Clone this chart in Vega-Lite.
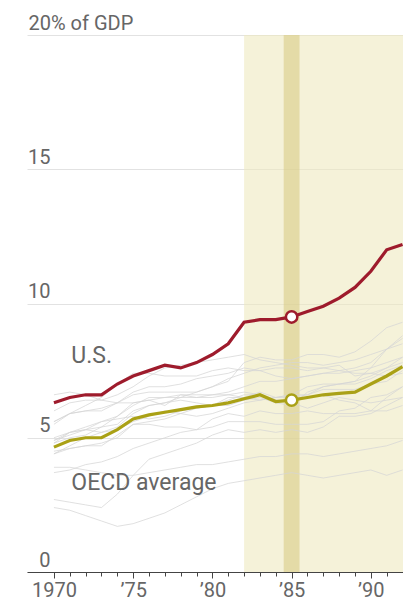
{
  "$schema": "https://vega.github.io/schema/vega-lite/v6.json",
  "width": 376,
  "height": 537,
  "autosize": "none",
  "padding": {"left": 27, "right": 0, "top": 35, "bottom": 29},
  "config": {"view": {"stroke": null}, "font": "Roboto"},
  "datasets": {
    "shade": [{"s": 1982, "e": 1992.03, "k": "period"}],
    "band": [{"s": 1984.5, "e": 1985.5, "k": "1985"}],
    "labels": [
      {"t": "U.S.", "x": 1971.1, "v": 7.8},
      {"t": "OECD average", "x": 1971.1, "v": 3.05}
    ],
    "gray": [
      {"c":"CAN","y":1970,"v":6.6},{"c":"CAN","y":1971,"v":6.7},{"c":"CAN","y":1972,"v":6.6},{"c":"CAN","y":1973,"v":6.4},{"c":"CAN","y":1974,"v":6.3},{"c":"CAN","y":1975,"v":6.6},{"c":"CAN","y":1976,"v":6.7},{"c":"CAN","y":1977,"v":6.7},{"c":"CAN","y":1978,"v":6.7},{"c":"CAN","y":1979,"v":6.7},{"c":"CAN","y":1980,"v":6.9},{"c":"CAN","y":1981,"v":7.1},{"c":"CAN","y":1982,"v":7.8},{"c":"CAN","y":1983,"v":8.0},{"c":"CAN","y":1984,"v":7.9},{"c":"CAN","y":1985,"v":7.9},{"c":"CAN","y":1986,"v":8.1},{"c":"CAN","y":1987,"v":8.1},{"c":"CAN","y":1988,"v":8.0},{"c":"CAN","y":1989,"v":8.2},{"c":"CAN","y":1990,"v":8.6},{"c":"CAN","y":1991,"v":9.1},{"c":"CAN","y":1992,"v":9.3},
      {"c":"SWE","y":1970,"v":6.0},{"c":"SWE","y":1971,"v":6.3},{"c":"SWE","y":1972,"v":6.4},{"c":"SWE","y":1973,"v":6.4},{"c":"SWE","y":1974,"v":6.6},{"c":"SWE","y":1975,"v":6.9},{"c":"SWE","y":1976,"v":7.3},{"c":"SWE","y":1977,"v":7.6},{"c":"SWE","y":1978,"v":7.7},{"c":"SWE","y":1979,"v":7.8},{"c":"SWE","y":1980,"v":7.9},{"c":"SWE","y":1981,"v":8.0},{"c":"SWE","y":1982,"v":8.1},{"c":"SWE","y":1983,"v":7.9},{"c":"SWE","y":1984,"v":7.8},{"c":"SWE","y":1985,"v":7.7},{"c":"SWE","y":1986,"v":7.6},{"c":"SWE","y":1987,"v":7.6},{"c":"SWE","y":1988,"v":7.5},{"c":"SWE","y":1989,"v":7.4},{"c":"SWE","y":1990,"v":7.4},{"c":"SWE","y":1991,"v":7.3},{"c":"SWE","y":1992,"v":7.4},
      {"c":"NLD","y":1970,"v":5.6},{"c":"NLD","y":1971,"v":5.9},{"c":"NLD","y":1972,"v":6.0},{"c":"NLD","y":1973,"v":6.0},{"c":"NLD","y":1974,"v":6.3},{"c":"NLD","y":1975,"v":6.7},{"c":"NLD","y":1976,"v":6.9},{"c":"NLD","y":1977,"v":6.9},{"c":"NLD","y":1978,"v":7.0},{"c":"NLD","y":1979,"v":7.2},{"c":"NLD","y":1980,"v":7.3},{"c":"NLD","y":1981,"v":7.4},{"c":"NLD","y":1982,"v":7.6},{"c":"NLD","y":1983,"v":7.5},{"c":"NLD","y":1984,"v":7.3},{"c":"NLD","y":1985,"v":7.2},{"c":"NLD","y":1986,"v":7.3},{"c":"NLD","y":1987,"v":7.4},{"c":"NLD","y":1988,"v":7.4},{"c":"NLD","y":1989,"v":7.5},{"c":"NLD","y":1990,"v":7.6},{"c":"NLD","y":1991,"v":7.8},{"c":"NLD","y":1992,"v":8.0},
      {"c":"DEU","y":1970,"v":5.5},{"c":"DEU","y":1971,"v":5.9},{"c":"DEU","y":1972,"v":6.2},{"c":"DEU","y":1973,"v":6.5},{"c":"DEU","y":1974,"v":7.0},{"c":"DEU","y":1975,"v":7.4},{"c":"DEU","y":1976,"v":7.4},{"c":"DEU","y":1977,"v":7.3},{"c":"DEU","y":1978,"v":7.3},{"c":"DEU","y":1979,"v":7.3},{"c":"DEU","y":1980,"v":7.5},{"c":"DEU","y":1981,"v":7.6},{"c":"DEU","y":1982,"v":7.5},{"c":"DEU","y":1983,"v":7.5},{"c":"DEU","y":1984,"v":7.6},{"c":"DEU","y":1985,"v":7.6},{"c":"DEU","y":1986,"v":7.5},{"c":"DEU","y":1987,"v":7.6},{"c":"DEU","y":1988,"v":7.7},{"c":"DEU","y":1989,"v":7.3},{"c":"DEU","y":1990,"v":7.4},{"c":"DEU","y":1991,"v":7.6},{"c":"DEU","y":1992,"v":8.0},
      {"c":"FRA","y":1970,"v":5.0},{"c":"FRA","y":1971,"v":5.2},{"c":"FRA","y":1972,"v":5.3},{"c":"FRA","y":1973,"v":5.4},{"c":"FRA","y":1974,"v":5.5},{"c":"FRA","y":1975,"v":6.0},{"c":"FRA","y":1976,"v":6.2},{"c":"FRA","y":1977,"v":6.3},{"c":"FRA","y":1978,"v":6.5},{"c":"FRA","y":1979,"v":6.7},{"c":"FRA","y":1980,"v":6.9},{"c":"FRA","y":1981,"v":7.2},{"c":"FRA","y":1982,"v":7.4},{"c":"FRA","y":1983,"v":7.6},{"c":"FRA","y":1984,"v":7.7},{"c":"FRA","y":1985,"v":7.8},{"c":"FRA","y":1986,"v":7.8},{"c":"FRA","y":1987,"v":7.7},{"c":"FRA","y":1988,"v":7.8},{"c":"FRA","y":1989,"v":7.9},{"c":"FRA","y":1990,"v":8.1},{"c":"FRA","y":1991,"v":8.3},{"c":"FRA","y":1992,"v":8.5},
      {"c":"CHE","y":1970,"v":4.9},{"c":"CHE","y":1971,"v":5.1},{"c":"CHE","y":1972,"v":5.3},{"c":"CHE","y":1973,"v":5.6},{"c":"CHE","y":1974,"v":5.8},{"c":"CHE","y":1975,"v":6.2},{"c":"CHE","y":1976,"v":6.5},{"c":"CHE","y":1977,"v":6.5},{"c":"CHE","y":1978,"v":6.6},{"c":"CHE","y":1979,"v":6.6},{"c":"CHE","y":1980,"v":6.6},{"c":"CHE","y":1981,"v":6.7},{"c":"CHE","y":1982,"v":6.9},{"c":"CHE","y":1983,"v":7.1},{"c":"CHE","y":1984,"v":7.1},{"c":"CHE","y":1985,"v":7.2},{"c":"CHE","y":1986,"v":7.3},{"c":"CHE","y":1987,"v":7.4},{"c":"CHE","y":1988,"v":7.5},{"c":"CHE","y":1989,"v":7.6},{"c":"CHE","y":1990,"v":7.8},{"c":"CHE","y":1991,"v":8.3},{"c":"CHE","y":1992,"v":8.7},
      {"c":"DNK","y":1970,"v":5.6},{"c":"DNK","y":1971,"v":5.9},{"c":"DNK","y":1972,"v":6.0},{"c":"DNK","y":1973,"v":6.1},{"c":"DNK","y":1974,"v":6.3},{"c":"DNK","y":1975,"v":6.3},{"c":"DNK","y":1976,"v":6.4},{"c":"DNK","y":1977,"v":6.5},{"c":"DNK","y":1978,"v":6.5},{"c":"DNK","y":1979,"v":6.5},{"c":"DNK","y":1980,"v":6.6},{"c":"DNK","y":1981,"v":6.6},{"c":"DNK","y":1982,"v":6.7},{"c":"DNK","y":1983,"v":6.6},{"c":"DNK","y":1984,"v":6.4},{"c":"DNK","y":1985,"v":6.3},{"c":"DNK","y":1986,"v":6.1},{"c":"DNK","y":1987,"v":6.3},{"c":"DNK","y":1988,"v":6.5},{"c":"DNK","y":1989,"v":6.4},{"c":"DNK","y":1990,"v":6.3},{"c":"DNK","y":1991,"v":6.4},{"c":"DNK","y":1992,"v":6.5},
      {"c":"AUT","y":1970,"v":4.8},{"c":"AUT","y":1971,"v":5.0},{"c":"AUT","y":1972,"v":5.1},{"c":"AUT","y":1973,"v":5.4},{"c":"AUT","y":1974,"v":5.8},{"c":"AUT","y":1975,"v":6.3},{"c":"AUT","y":1976,"v":6.4},{"c":"AUT","y":1977,"v":6.2},{"c":"AUT","y":1978,"v":6.6},{"c":"AUT","y":1979,"v":6.5},{"c":"AUT","y":1980,"v":6.5},{"c":"AUT","y":1981,"v":6.6},{"c":"AUT","y":1982,"v":6.5},{"c":"AUT","y":1983,"v":6.4},{"c":"AUT","y":1984,"v":6.5},{"c":"AUT","y":1985,"v":6.5},{"c":"AUT","y":1986,"v":6.6},{"c":"AUT","y":1987,"v":6.8},{"c":"AUT","y":1988,"v":6.8},{"c":"AUT","y":1989,"v":6.8},{"c":"AUT","y":1990,"v":7.0},{"c":"AUT","y":1991,"v":7.1},{"c":"AUT","y":1992,"v":7.5},
      {"c":"NOR","y":1970,"v":4.4},{"c":"NOR","y":1971,"v":4.7},{"c":"NOR","y":1972,"v":5.0},{"c":"NOR","y":1973,"v":5.2},{"c":"NOR","y":1974,"v":5.4},{"c":"NOR","y":1975,"v":5.9},{"c":"NOR","y":1976,"v":6.2},{"c":"NOR","y":1977,"v":6.3},{"c":"NOR","y":1978,"v":6.4},{"c":"NOR","y":1979,"v":6.3},{"c":"NOR","y":1980,"v":6.2},{"c":"NOR","y":1981,"v":6.2},{"c":"NOR","y":1982,"v":6.4},{"c":"NOR","y":1983,"v":6.5},{"c":"NOR","y":1984,"v":6.3},{"c":"NOR","y":1985,"v":6.2},{"c":"NOR","y":1986,"v":6.7},{"c":"NOR","y":1987,"v":6.9},{"c":"NOR","y":1988,"v":7.0},{"c":"NOR","y":1989,"v":7.0},{"c":"NOR","y":1990,"v":7.2},{"c":"NOR","y":1991,"v":7.5},{"c":"NOR","y":1992,"v":7.7},
      {"c":"FIN","y":1970,"v":4.9},{"c":"FIN","y":1971,"v":5.2},{"c":"FIN","y":1972,"v":5.3},{"c":"FIN","y":1973,"v":5.2},{"c":"FIN","y":1974,"v":5.3},{"c":"FIN","y":1975,"v":5.6},{"c":"FIN","y":1976,"v":5.8},{"c":"FIN","y":1977,"v":6.0},{"c":"FIN","y":1978,"v":5.9},{"c":"FIN","y":1979,"v":5.8},{"c":"FIN","y":1980,"v":5.9},{"c":"FIN","y":1981,"v":6.1},{"c":"FIN","y":1982,"v":6.3},{"c":"FIN","y":1983,"v":6.4},{"c":"FIN","y":1984,"v":6.5},{"c":"FIN","y":1985,"v":6.6},{"c":"FIN","y":1986,"v":6.9},{"c":"FIN","y":1987,"v":7.0},{"c":"FIN","y":1988,"v":7.0},{"c":"FIN","y":1989,"v":7.1},{"c":"FIN","y":1990,"v":7.6},{"c":"FIN","y":1991,"v":8.3},{"c":"FIN","y":1992,"v":8.8},
      {"c":"ITA","y":1970,"v":4.8},{"c":"ITA","y":1971,"v":5.2},{"c":"ITA","y":1972,"v":5.4},{"c":"ITA","y":1973,"v":5.6},{"c":"ITA","y":1974,"v":5.7},{"c":"ITA","y":1975,"v":5.8},{"c":"ITA","y":1976,"v":5.7},{"c":"ITA","y":1977,"v":5.8},{"c":"ITA","y":1978,"v":6.0},{"c":"ITA","y":1979,"v":6.1},{"c":"ITA","y":1980,"v":6.2},{"c":"ITA","y":1981,"v":6.5},{"c":"ITA","y":1982,"v":6.5},{"c":"ITA","y":1983,"v":6.7},{"c":"ITA","y":1984,"v":6.5},{"c":"ITA","y":1985,"v":6.6},{"c":"ITA","y":1986,"v":6.6},{"c":"ITA","y":1987,"v":6.9},{"c":"ITA","y":1988,"v":7.0},{"c":"ITA","y":1989,"v":7.1},{"c":"ITA","y":1990,"v":7.3},{"c":"ITA","y":1991,"v":7.6},{"c":"ITA","y":1992,"v":7.8},
      {"c":"JPN","y":1970,"v":4.4},{"c":"JPN","y":1971,"v":4.6},{"c":"JPN","y":1972,"v":4.7},{"c":"JPN","y":1973,"v":4.8},{"c":"JPN","y":1974,"v":5.0},{"c":"JPN","y":1975,"v":5.5},{"c":"JPN","y":1976,"v":5.6},{"c":"JPN","y":1977,"v":5.7},{"c":"JPN","y":1978,"v":5.9},{"c":"JPN","y":1979,"v":6.1},{"c":"JPN","y":1980,"v":6.2},{"c":"JPN","y":1981,"v":6.4},{"c":"JPN","y":1982,"v":6.6},{"c":"JPN","y":1983,"v":6.6},{"c":"JPN","y":1984,"v":6.4},{"c":"JPN","y":1985,"v":6.4},{"c":"JPN","y":1986,"v":6.5},{"c":"JPN","y":1987,"v":6.6},{"c":"JPN","y":1988,"v":6.4},{"c":"JPN","y":1989,"v":6.3},{"c":"JPN","y":1990,"v":6.0},{"c":"JPN","y":1991,"v":6.0},{"c":"JPN","y":1992,"v":6.2},
      {"c":"GBR","y":1970,"v":4.5},{"c":"GBR","y":1971,"v":4.6},{"c":"GBR","y":1972,"v":4.7},{"c":"GBR","y":1973,"v":4.7},{"c":"GBR","y":1974,"v":5.1},{"c":"GBR","y":1975,"v":5.5},{"c":"GBR","y":1976,"v":5.5},{"c":"GBR","y":1977,"v":5.4},{"c":"GBR","y":1978,"v":5.4},{"c":"GBR","y":1979,"v":5.3},{"c":"GBR","y":1980,"v":5.7},{"c":"GBR","y":1981,"v":5.9},{"c":"GBR","y":1982,"v":5.8},{"c":"GBR","y":1983,"v":6.0},{"c":"GBR","y":1984,"v":5.9},{"c":"GBR","y":1985,"v":5.9},{"c":"GBR","y":1986,"v":6.0},{"c":"GBR","y":1987,"v":5.9},{"c":"GBR","y":1988,"v":5.9},{"c":"GBR","y":1989,"v":5.9},{"c":"GBR","y":1990,"v":6.0},{"c":"GBR","y":1991,"v":6.5},{"c":"GBR","y":1992,"v":6.9},
      {"c":"ESP","y":1970,"v":3.7},{"c":"ESP","y":1971,"v":3.8},{"c":"ESP","y":1972,"v":4.0},{"c":"ESP","y":1973,"v":4.1},{"c":"ESP","y":1974,"v":4.3},{"c":"ESP","y":1975,"v":4.6},{"c":"ESP","y":1976,"v":4.8},{"c":"ESP","y":1977,"v":5.0},{"c":"ESP","y":1978,"v":5.2},{"c":"ESP","y":1979,"v":5.3},{"c":"ESP","y":1980,"v":5.4},{"c":"ESP","y":1981,"v":5.6},{"c":"ESP","y":1982,"v":5.6},{"c":"ESP","y":1983,"v":5.6},{"c":"ESP","y":1984,"v":5.5},{"c":"ESP","y":1985,"v":5.5},{"c":"ESP","y":1986,"v":5.5},{"c":"ESP","y":1987,"v":5.6},{"c":"ESP","y":1988,"v":6.0},{"c":"ESP","y":1989,"v":6.1},{"c":"ESP","y":1990,"v":6.5},{"c":"ESP","y":1991,"v":6.6},{"c":"ESP","y":1992,"v":6.9},
      {"c":"GRC","y":1970,"v":3.9},{"c":"GRC","y":1971,"v":3.9},{"c":"GRC","y":1972,"v":3.8},{"c":"GRC","y":1973,"v":3.7},{"c":"GRC","y":1974,"v":3.6},{"c":"GRC","y":1975,"v":3.6},{"c":"GRC","y":1976,"v":3.7},{"c":"GRC","y":1977,"v":3.8},{"c":"GRC","y":1978,"v":3.9},{"c":"GRC","y":1979,"v":4.0},{"c":"GRC","y":1980,"v":4.0},{"c":"GRC","y":1981,"v":4.1},{"c":"GRC","y":1982,"v":4.2},{"c":"GRC","y":1983,"v":4.3},{"c":"GRC","y":1984,"v":4.3},{"c":"GRC","y":1985,"v":4.4},{"c":"GRC","y":1986,"v":4.4},{"c":"GRC","y":1987,"v":4.3},{"c":"GRC","y":1988,"v":4.4},{"c":"GRC","y":1989,"v":4.5},{"c":"GRC","y":1990,"v":4.6},{"c":"GRC","y":1991,"v":4.7},{"c":"GRC","y":1992,"v":4.9},
      {"c":"PRT","y":1970,"v":2.7},{"c":"PRT","y":1971,"v":2.6},{"c":"PRT","y":1972,"v":2.5},{"c":"PRT","y":1973,"v":2.4},{"c":"PRT","y":1974,"v":2.9},{"c":"PRT","y":1975,"v":3.6},{"c":"PRT","y":1976,"v":4.2},{"c":"PRT","y":1977,"v":4.4},{"c":"PRT","y":1978,"v":4.6},{"c":"PRT","y":1979,"v":4.8},{"c":"PRT","y":1980,"v":5.1},{"c":"PRT","y":1981,"v":5.3},{"c":"PRT","y":1982,"v":5.2},{"c":"PRT","y":1983,"v":5.3},{"c":"PRT","y":1984,"v":5.2},{"c":"PRT","y":1985,"v":5.3},{"c":"PRT","y":1986,"v":5.2},{"c":"PRT","y":1987,"v":5.4},{"c":"PRT","y":1988,"v":5.8},{"c":"PRT","y":1989,"v":5.8},{"c":"PRT","y":1990,"v":5.9},{"c":"PRT","y":1991,"v":6.2},{"c":"PRT","y":1992,"v":6.5},
      {"c":"TUR","y":1970,"v":2.4},{"c":"TUR","y":1971,"v":2.3},{"c":"TUR","y":1972,"v":2.1},{"c":"TUR","y":1973,"v":1.9},{"c":"TUR","y":1974,"v":1.7},{"c":"TUR","y":1975,"v":1.8},{"c":"TUR","y":1976,"v":2.0},{"c":"TUR","y":1977,"v":2.2},{"c":"TUR","y":1978,"v":2.5},{"c":"TUR","y":1979,"v":2.8},{"c":"TUR","y":1980,"v":3.1},{"c":"TUR","y":1981,"v":3.3},{"c":"TUR","y":1982,"v":3.4},{"c":"TUR","y":1983,"v":3.5},{"c":"TUR","y":1984,"v":3.6},{"c":"TUR","y":1985,"v":3.7},{"c":"TUR","y":1986,"v":3.6},{"c":"TUR","y":1987,"v":3.5},{"c":"TUR","y":1988,"v":3.6},{"c":"TUR","y":1989,"v":3.7},{"c":"TUR","y":1990,"v":3.8},{"c":"TUR","y":1991,"v":3.6},{"c":"TUR","y":1992,"v":3.8}
    ],
    "main": [
      {"c":"U.S.","y":1970,"v":6.3},{"c":"U.S.","y":1971,"v":6.5},{"c":"U.S.","y":1972,"v":6.6},{"c":"U.S.","y":1973,"v":6.6},{"c":"U.S.","y":1974,"v":7.0},{"c":"U.S.","y":1975,"v":7.3},{"c":"U.S.","y":1976,"v":7.5},{"c":"U.S.","y":1977,"v":7.7},{"c":"U.S.","y":1978,"v":7.6},{"c":"U.S.","y":1979,"v":7.8},{"c":"U.S.","y":1980,"v":8.1},{"c":"U.S.","y":1981,"v":8.5},{"c":"U.S.","y":1982,"v":9.3},{"c":"U.S.","y":1983,"v":9.4},{"c":"U.S.","y":1984,"v":9.4},{"c":"U.S.","y":1985,"v":9.5},{"c":"U.S.","y":1986,"v":9.7},{"c":"U.S.","y":1987,"v":9.9},{"c":"U.S.","y":1988,"v":10.2},{"c":"U.S.","y":1989,"v":10.6},{"c":"U.S.","y":1990,"v":11.2},{"c":"U.S.","y":1991,"v":12.0},{"c":"U.S.","y":1992,"v":12.2},
      {"c":"OECD","y":1970,"v":4.65},{"c":"OECD","y":1971,"v":4.9},{"c":"OECD","y":1972,"v":5.0},{"c":"OECD","y":1973,"v":5.0},{"c":"OECD","y":1974,"v":5.3},{"c":"OECD","y":1975,"v":5.7},{"c":"OECD","y":1976,"v":5.85},{"c":"OECD","y":1977,"v":5.95},{"c":"OECD","y":1978,"v":6.05},{"c":"OECD","y":1979,"v":6.15},{"c":"OECD","y":1980,"v":6.2},{"c":"OECD","y":1981,"v":6.3},{"c":"OECD","y":1982,"v":6.45},{"c":"OECD","y":1983,"v":6.6},{"c":"OECD","y":1984,"v":6.35},{"c":"OECD","y":1985,"v":6.4},{"c":"OECD","y":1986,"v":6.5},{"c":"OECD","y":1987,"v":6.6},{"c":"OECD","y":1988,"v":6.65},{"c":"OECD","y":1989,"v":6.7},{"c":"OECD","y":1990,"v":7.0},{"c":"OECD","y":1991,"v":7.3},{"c":"OECD","y":1992,"v":7.65}
    ]
  },
  "layer": [
    {
      "data": {"name": "shade"},
      "mark": {"type": "rect", "color": "#efe9bf", "opacity": 0.6},
      "encoding": {
        "x": {"field": "s", "type": "quantitative", "scale": {"domain": [1968.3, 1992.03], "nice": false, "zero": false},
          "axis": {
            "values": [1970,1971,1972,1973,1974,1975,1976,1977,1978,1979,1980,1981,1982,1983,1984,1985,1986,1987,1988,1989,1990,1991,1992],
            "tickCount": 40,
            "labelExpr": "datum.value == 1970 ? '1970' : (datum.value % 5 == 0 ? '\u2019' + slice(toString(datum.value), 2) : '')",
            "title": null, "grid": false, "labelOverlap": false, "labelFlush": false,
            "domainColor": "#444", "tickColor": "#444", "domainWidth": 1,
            "tickSize": {"condition": {"test": "datum.value % 5 == 0", "value": 6}, "value": 4},
            "labelFont": "Roboto", "labelFontSize": 20, "labelColor": "#666", "labelPadding": 2
          }},
        "x2": {"field": "e"},
        "y": {"datum": 0, "type": "quantitative", "scale": {"domain": [0, 20], "nice": false},
          "axis": {
            "values": [0, 5, 10, 15, 20],
            "labelExpr": "datum.value == 20 ? '20% of GDP' : datum.label",
            "title": null, "domain": false, "ticks": false, "tickSize": 0,
            "grid": true, "gridColor": "#e2e2e2", "gridWidth": 1,
            "labelFont": "Roboto", "labelFontSize": 20, "labelColor": "#666",
            "labelAlign": {"condition": {"test": "datum.value == 20", "value": "left"}, "value": "right"},
            "labelPadding": {"condition": {"test": "datum.value == 20", "value": -1}, "value": -23},
            "labelBaseline": "alphabetic", "labelOffset": -6
          }},
        "y2": {"datum": 20}
      }
    },
    {
      "data": {"name": "band"},
      "mark": {"type": "rect", "color": "#d9cc85", "opacity": 0.6},
      "encoding": {
        "x": {"field": "s", "type": "quantitative"},
        "x2": {"field": "e"},
        "y": {"datum": 0, "type": "quantitative"},
        "y2": {"datum": 20}
      }
    },
    {
      "data": {"name": "gray"},
      "mark": {"type": "line", "color": "#d6d6d6", "strokeWidth": 1, "opacity": 0.75},
      "encoding": {
        "x": {"field": "y", "type": "quantitative"},
        "y": {"field": "v", "type": "quantitative"},
        "detail": {"field": "c"}
      }
    },
    {
      "data": {"name": "main"},
      "mark": {"type": "line", "strokeWidth": 3.2},
      "encoding": {
        "x": {"field": "y", "type": "quantitative"},
        "y": {"field": "v", "type": "quantitative"},
        "color": {"field": "c", "type": "nominal", "scale": {"domain": ["U.S.", "OECD"], "range": ["#9e1b2c", "#aaa116"]}, "legend": null}
      }
    },
    {
      "data": {"name": "main"},
      "transform": [{"filter": "datum.y == 1985"}],
      "mark": {"type": "point", "filled": true, "fill": "white", "size": 130, "strokeWidth": 2.5, "opacity": 1},
      "encoding": {
        "x": {"field": "y", "type": "quantitative"},
        "y": {"field": "v", "type": "quantitative"},
        "stroke": {"field": "c", "type": "nominal", "scale": {"domain": ["U.S.", "OECD"], "range": ["#9e1b2c", "#aaa116"]}, "legend": null}
      }
    },
    {
      "data": {"name": "labels"},
      "mark": {"type": "text", "align": "left", "baseline": "alphabetic", "font": "Roboto", "fontSize": 23, "color": "#666"},
      "encoding": {
        "x": {"field": "x", "type": "quantitative"},
        "y": {"field": "v", "type": "quantitative"},
        "text": {"field": "t"}
      }
    }
  ]
}
